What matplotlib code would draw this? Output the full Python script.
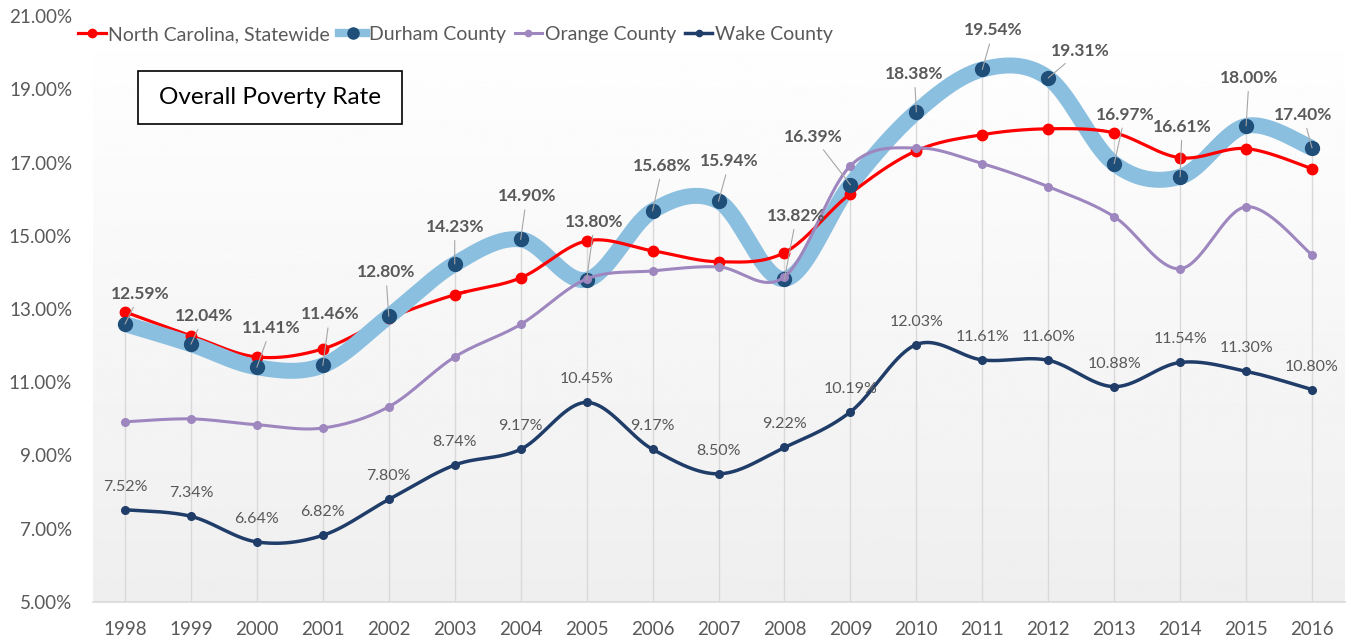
import numpy as np
import matplotlib
matplotlib.use("Agg")
import matplotlib.pyplot as plt
from matplotlib.lines import Line2D
from matplotlib.patches import Rectangle

plt.rcParams['font.family'] = ['Lato', 'DejaVu Sans']

years = list(range(1998, 2017))
nc_statewide = [12.92, 12.27, 11.69, 11.91, 12.75, 13.39, 13.85, 14.86, 14.59, 14.29,
                14.54, 16.15, 17.32, 17.76, 17.92, 17.81, 17.13, 17.38, 16.83]
durham = [12.59, 12.04, 11.41, 11.46, 12.80, 14.23, 14.90, 13.80, 15.68, 15.94,
          13.82, 16.39, 18.38, 19.54, 19.31, 16.97, 16.61, 18.00, 17.40]
orange = [9.92, 10.00, 9.84, 9.75, 10.33, 11.69, 12.58, 13.82, 14.04, 14.15,
          13.88, 16.91, 17.40, 16.97, 16.34, 15.52, 14.10, 15.79, 14.48]
wake = [7.52, 7.34, 6.64, 6.82, 7.80, 8.74, 9.17, 10.45, 9.17, 8.50,
        9.22, 10.19, 12.03, 11.61, 11.60, 10.88, 11.54, 11.30, 10.80]
series_names = ["North Carolina, Statewide", "Durham County", "Orange County", "Wake County"]
yticks = [5, 7, 9, 11, 13, 15, 17, 19, 21]
title_text = "Overall Poverty Rate"

# label offsets (pixels) for Durham labels
durham_offsets = [(15, 30), (13, 28), (14, 39), (7, 51), (-3, 44), (0, 37), (6, 43), (8, 58),
                  (10, 45), (11, 40), (12, 63), (-37, 48), (-2, 38), (11, 39), (32, 27),
                  (11, 49), (2, 50), (3, 48), (-9, 33)]

C_RED = '#ff0000'
C_BAND = '#8bbfe0'
C_DMARK = '#1f4e79'
C_ORANGE = '#9e86bf'
C_WAKE = '#1f3d68'
C_TXT = '#595959'


def smooth(xs, ys, n=40):
    x = np.asarray(xs, float)
    y = np.asarray(ys, float)
    P = np.column_stack([x, y])
    P = np.vstack([P[0], P, P[-1]])
    out = []
    t = np.linspace(0, 1, n)
    for i in range(1, len(P) - 2):
        p0, p1, p2, p3 = P[i - 1], P[i], P[i + 1], P[i + 2]
        c1 = p1 + (p2 - p0) / 6.0
        c2 = p2 - (p3 - p1) / 6.0
        seg = ((1 - t) ** 3)[:, None] * p1 + (3 * (1 - t) ** 2 * t)[:, None] * c1 \
            + (3 * (1 - t) * t ** 2)[:, None] * c2 + (t ** 3)[:, None] * p2
        out.append(seg if i == 1 else seg[1:])
    s = np.vstack(out)
    return s[:, 0], s[:, 1]


fig = plt.figure(figsize=(13.51, 6.44), dpi=100)
ax = fig.add_axes([93 / 1351, 42 / 644, 1252 / 1351, 586 / 644])
ax.set_xlim(1997.515, 2016.5)
ax.set_ylim(5, 21)

# gradient background
grad = np.linspace(0.935, 1.0, 256).reshape(-1, 1)
ax.imshow(grad, extent=[0, 1, 0, 1], transform=ax.transAxes, aspect='auto',
          cmap='gray', vmin=0, vmax=1, origin='lower', zorder=0)

# drop lines
tops = [max(a, b, c, d) for a, b, c, d in zip(nc_statewide, durham, orange, wake)]
ax.vlines(years, 5, tops, colors='#d9d9d9', lw=1.0, zorder=1)

# NC statewide (first part under the band)
sx, sy = smooth(years, nc_statewide)
mask1 = sx <= 2003.2
ax.plot(sx[mask1], sy[mask1], color=C_RED, lw=2.3, zorder=2, solid_capstyle='round')
# Durham band
dx_, dy_ = smooth(years, durham)
ax.plot(dx_, dy_, color=C_BAND, lw=11.5, zorder=3, solid_capstyle='butt')
# NC rest over band
mask2 = sx >= 2003.0
ax.plot(sx[mask2], sy[mask2], color=C_RED, lw=2.3, zorder=4, solid_capstyle='round')
ax.plot(years, nc_statewide, ls='none', marker='o', ms=7.5, color=C_RED, zorder=4)
# Durham markers
ax.plot(years, durham, ls='none', marker='o', ms=10, color=C_DMARK, zorder=5)
# Orange
ox, oy = smooth(years, orange)
ax.plot(ox, oy, color=C_ORANGE, lw=2.2, zorder=6)
ax.plot(years, orange, ls='none', marker='o', ms=5.5, color=C_ORANGE, zorder=6)
# Wake
wx, wy = smooth(years, wake)
ax.plot(wx, wy, color=C_WAKE, lw=2.5, zorder=7)
ax.plot(years, wake, ls='none', marker='o', ms=5.5, color=C_WAKE, zorder=7)

# Durham labels
for x, v, (ox_, oy_) in zip(years, durham, durham_offsets):
    ax.annotate(f"{v:.2f}%", xy=(x, v), xytext=(ox_, oy_), textcoords='offset pixels',
                ha='center', va='center', fontsize=12.5, fontweight='bold', color=C_TXT,
                zorder=9,
                arrowprops=dict(arrowstyle='-', color='#a6a6a6', lw=0.8,
                                shrinkA=2, shrinkB=0))
# Wake labels
for x, v in zip(years, wake):
    ax.annotate(f"{v:.2f}%", xy=(x, v), xytext=(0, 23), textcoords='offset pixels',
                ha='center', va='center', fontsize=11.5, color=C_TXT, zorder=9)

ax.set_yticks(yticks)
ax.set_yticklabels([f"{t:.2f}%" for t in yticks])
ax.set_xticks(years)
ax.set_xticklabels([str(y) for y in years])
ax.tick_params(axis='y', length=0, pad=15, labelsize=13.5, labelcolor=C_TXT)
ax.tick_params(axis='x', length=0, pad=14, labelsize=13.5, labelcolor=C_TXT)
for s in ['top', 'left', 'right']:
    ax.spines[s].set_visible(False)
ax.spines['bottom'].set_color('#d9d9d9')
ax.spines['bottom'].set_linewidth(1.2)
ax.grid(False)

# legend
handles = [
    Line2D([], [], color=C_RED, lw=2.3, marker='o', ms=6),
    Line2D([], [], color=C_BAND, lw=6, marker='o', ms=8, mfc=C_DMARK, mec=C_DMARK),
    Line2D([], [], color=C_ORANGE, lw=2.2, marker='o', ms=4.5),
    Line2D([], [], color=C_WAKE, lw=2.5, marker='o', ms=4.5),
]
leg = fig.legend(handles, series_names, loc='center left', bbox_to_anchor=(0.058, 0.946),
                 ncol=4, frameon=False, fontsize=14, handlelength=1.4,
                 handletextpad=0.15, columnspacing=0.45, borderaxespad=0, borderpad=0)
for t in leg.get_texts():
    t.set_color(C_TXT)

# title box
fig.patches.append(Rectangle((138 / 1351, 1 - 124 / 644), 264 / 1351, 53 / 644,
                             transform=fig.transFigure, facecolor='white',
                             edgecolor='black', lw=1.2, zorder=10))
fig.text(270 / 1351, 1 - 98 / 644, title_text, ha='center', va='center',
         fontsize=17.5, color='black', zorder=11)

fig.savefig('out.png', dpi=100, facecolor='white')
